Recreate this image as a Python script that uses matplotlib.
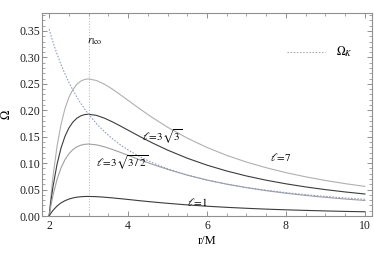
import matplotlib
matplotlib.use("Agg")
import matplotlib.pyplot as plt
from matplotlib.ticker import MultipleLocator, FormatStrFormatter

plt.rcParams['font.family'] = ['Liberation Serif', 'DejaVu Serif']
plt.rcParams['mathtext.fontset'] = 'stix'

r = [2.0, 2.05, 2.1, 2.2, 2.3, 2.4, 2.5, 2.6, 2.7, 2.8, 2.9, 3.0, 3.2, 3.4, 3.6, 3.8,
     4.0, 4.3, 4.6, 5.0, 5.5, 6.0, 6.5, 7.0, 7.5, 8.0, 8.5, 9.0, 9.5, 10.0]

omega_l7 = [0.0, 0.0406, 0.0756, 0.1315, 0.1726, 0.2025, 0.2240, 0.2390, 0.2489, 0.2551,
            0.2583, 0.2593, 0.2563, 0.2493, 0.2401, 0.2296, 0.2188, 0.2025, 0.1870, 0.1680,
            0.1473, 0.1296, 0.1147, 0.1020, 0.0913, 0.0820, 0.0741, 0.0672, 0.0612, 0.0560]
omega_l3r3 = [0.0, 0.0302, 0.0561, 0.0976, 0.1281, 0.1504, 0.1663, 0.1774, 0.1848, 0.1894,
              0.1918, 0.1925, 0.1903, 0.1851, 0.1782, 0.1705, 0.1624, 0.1503, 0.1388, 0.1247,
              0.1093, 0.0962, 0.0851, 0.0757, 0.0677, 0.0609, 0.0550, 0.0499, 0.0455, 0.0416]
omega_l3r32 = [0.0, 0.0213, 0.0397, 0.0690, 0.0906, 0.1063, 0.1176, 0.1254, 0.1307, 0.1339,
               0.1356, 0.1361, 0.1346, 0.1309, 0.1260, 0.1205, 0.1148, 0.1063, 0.0982, 0.0882,
               0.0773, 0.0680, 0.0602, 0.0536, 0.0479, 0.0431, 0.0389, 0.0353, 0.0321, 0.0294]
omega_l1 = [0.0, 0.0058, 0.0108, 0.0188, 0.0247, 0.0289, 0.0320, 0.0341, 0.0356, 0.0364,
            0.0369, 0.0370, 0.0366, 0.0356, 0.0343, 0.0328, 0.0313, 0.0289, 0.0267, 0.0240,
            0.0210, 0.0185, 0.0164, 0.0146, 0.0130, 0.0117, 0.0106, 0.0096, 0.0087, 0.0080]
omega_K = [0.3536, 0.3407, 0.3286, 0.3065, 0.2867, 0.2690, 0.2530, 0.2385, 0.2254, 0.2134,
           0.2025, 0.1925, 0.1747, 0.1595, 0.1464, 0.1350, 0.1250, 0.1122, 0.1014, 0.0894,
           0.0775, 0.0680, 0.0603, 0.0540, 0.0487, 0.0442, 0.0404, 0.0370, 0.0342, 0.0316]
r_lco = 3.0

fig = plt.figure(figsize=(3.74, 2.64), dpi=100)
ax = fig.add_axes([0.1123, 0.1818, 0.8824, 0.769])

ax.axvline(r_lco, color='#c0c0c0', lw=0.8, ls=(0, (1, 1.5)))
ax.plot(r, omega_l7, color='#b0b0b0', lw=0.8)
ax.plot(r, omega_l3r3, color='#3c3c3c', lw=0.8)
ax.plot(r, omega_l3r32, color='#a0a0a0', lw=0.8)
ax.plot(r, omega_l1, color='#3c3c3c', lw=0.8)
ax.plot(r, omega_K, color='#8898c8', lw=0.75, ls=(0, (1.5, 1.5)))

ax.set_xlim(1.82, 10.18)
ax.set_ylim(0, 0.384)
ax.xaxis.set_major_locator(MultipleLocator(2))
ax.xaxis.set_minor_locator(MultipleLocator(0.5))
ax.yaxis.set_major_locator(MultipleLocator(0.05))
ax.yaxis.set_minor_locator(MultipleLocator(0.01))
ax.yaxis.set_major_formatter(FormatStrFormatter('%.2f'))
ax.tick_params(which='both', direction='in', top=True, right=True, color='#808080',
               labelsize=8.5, labelcolor='#202020')
ax.tick_params(which='major', length=3.5, width=0.6)
ax.tick_params(which='minor', length=2, width=0.5)
ax.tick_params(axis='x', pad=3)
ax.tick_params(axis='y', pad=1.5)
for s in ax.spines.values():
    s.set_color('#909090')
    s.set_linewidth(0.8)

ax.set_xlabel('r/M', fontsize=9, labelpad=2)
ax.set_ylabel(r'$\Omega$', fontsize=9, labelpad=4)

ax.text(2.97, 0.329, r'$r_{\rm lco}$', fontsize=8, va='center', ha='left')
ax.text(4.35, 0.149, r'$\ell\!=\!3\sqrt{3}$', fontsize=8, va='center', ha='left')
ax.text(3.2, 0.100, r'$\ell\!=\!3\sqrt{3\,/\,2}$', fontsize=8, va='center', ha='left')
ax.text(7.6, 0.111, r'$\ell\!=\!7$', fontsize=8, va='center', ha='left')
ax.text(5.5, 0.0265, r'$\ell\!=\!1$', fontsize=8, va='center', ha='left')

ax.plot([8.03, 9.0], [0.3105, 0.3105], color='#a8a8a8', lw=0.75, ls=(0, (1.5, 1.5)))
ax.text(9.27, 0.3105, r'$\Omega_K$', fontsize=8.5, va='center', ha='left')

fig.savefig('out.png', dpi=100)
